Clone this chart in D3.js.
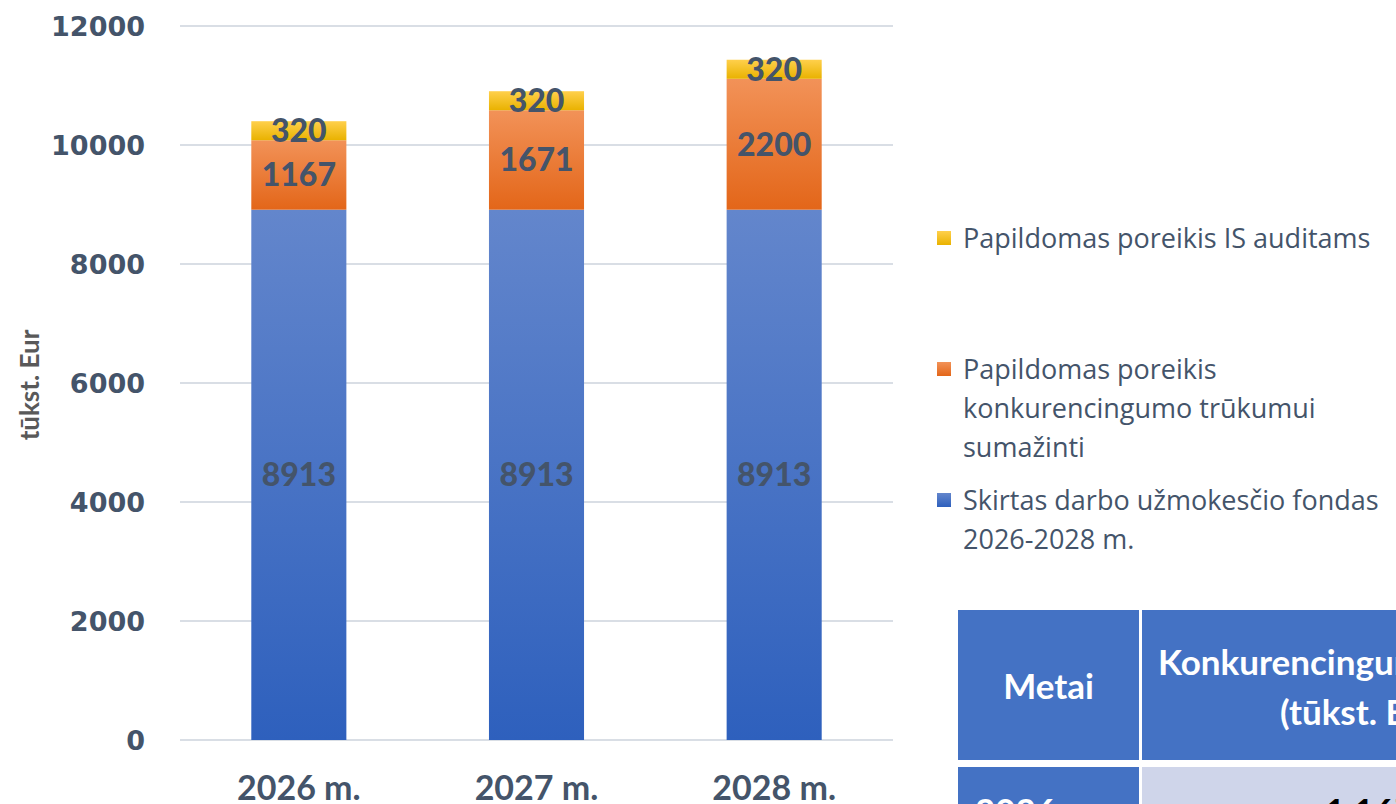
<!DOCTYPE html>
<html>
<head>
<meta charset="utf-8">
<script src="https://cdn.jsdelivr.net/npm/d3@7"></script>
<style>
  body { margin: 0; background: #fff; }
  svg { display: block; }
  .grid line { stroke: #d9dee5; stroke-width: 2; }
  .tick-label { font-family: "DejaVu Sans", sans-serif; font-weight: bold; font-size: 27px; fill: #44546a; }
  .cat-label { font-family: Lato, sans-serif; font-weight: bold; font-size: 34px; fill: #44546a; }
  .seg-label { font-family: Lato, sans-serif; font-weight: 900; font-size: 32px; fill: #44546a; }
  .legend text { font-family: "Open Sans", sans-serif; font-size: 27px; fill: #44546a; }
  .tbl text { font-family: Lato, sans-serif; font-weight: bold; font-size: 35px; }
</style>
</head>
<body>
<svg id="chart" width="1396" height="804"></svg>
<script>
// chart data
const years = ['2026 m.', '2027 m.', '2028 m.'];
const fund = [8913, 8913, 8913];
const gap = [1167, 1671, 2200];
const audit = [320, 320, 320];
const yTicks = [0, 2000, 4000, 6000, 8000, 10000, 12000];

const seriesKeys = ['fund', 'gap', 'audit'];
const seriesNames = [
  ['Skirtas darbo užmokesčio fondas', '2026-2028 m.'],
  ['Papildomas poreikis', 'konkurencingumo trūkumui', 'sumažinti'],
  ['Papildomas poreikis IS auditams']
];
const seriesColors = [
  ['#6386cc', '#2e60bd'],
  ['#f29258', '#e36619'],
  ['#ffd04c', '#e9b200']
];

// table data
const tableHeader = [['Metai'], ['Konkurencingumo trūkumas', '(tūkst. Eur)']];
const tableRows = [['2026', '1 167']];

const svg = d3.select('#chart');
const defs = svg.append('defs');

seriesColors.forEach((c, i) => {
  const g = defs.append('linearGradient')
      .attr('id', `grad${ i }`)
      .attr('x1', 0).attr('y1', 0).attr('x2', 0).attr('y2', 1);
  g.append('stop').attr('offset', '0%').attr('stop-color', c[0]);
  g.append('stop').attr('offset', '100%').attr('stop-color', c[1]);
});

const rows = years.map((d, i) => ({ year: d, fund: fund[i], gap: gap[i], audit: audit[i] }));

const x = d3.scaleBand()
    .domain(years)
    .range([180, 893])
    .paddingInner(0.6)
    .paddingOuter(0.3);

const y = d3.scaleLinear()
    .domain([0, 12000])
    .range([740, 26]);

// gridlines
svg.append('g')
    .attr('class', 'grid')
  .selectAll('line')
    .data(yTicks)
  .enter().append('line')
    .attr('x1', 180)
    .attr('x2', 893)
    .attr('y1', (d) => y(d))
    .attr('y2', (d) => y(d));

// y tick labels
svg.append('g')
  .selectAll('text')
    .data(yTicks)
  .enter().append('text')
    .attr('class', 'tick-label')
    .attr('x', 145)
    .attr('y', (d) => y(d))
    .attr('dy', '0.36em')
    .attr('text-anchor', 'end')
    .text((d) => d);

// y axis title
svg.append('text')
    .attr('transform', 'translate(39,385) rotate(-90)')
    .attr('text-anchor', 'middle')
    .style('font-family', 'Lato, sans-serif')
    .style('font-weight', 'bold')
    .style('font-size', '26px')
    .style('fill', '#595959')
    .text('tūkst. Eur');

const stacked = d3.stack().keys(seriesKeys)(rows);

const layer = svg.selectAll('.layer')
    .data(stacked)
  .enter().append('g')
    .attr('class', 'layer');

layer.selectAll('rect')
    .data((d) => d.map((v) => ({ v, i: d.index })))
  .enter().append('rect')
    .attr('x', (d) => x(d.v.data.year))
    .attr('y', (d) => y(d.v[1]))
    .attr('width', x.bandwidth())
    .attr('height', (d) => y(d.v[0]) - y(d.v[1]))
    .style('fill', (d) => `url(#grad${ d.i })`);

layer.selectAll('text')
    .data((d) => d.map((v) => ({ v, i: d.index })))
  .enter().append('text')
    .attr('class', 'seg-label')
    .attr('x', (d) => x(d.v.data.year) + x.bandwidth() / 2)
    .attr('y', (d) => y((d.v[0] + d.v[1]) / 2))
    .attr('dy', '0.36em')
    .attr('text-anchor', 'middle')
    .text((d) => d.v[1] - d.v[0]);

// category labels
svg.append('g')
  .selectAll('text')
    .data(years)
  .enter().append('text')
    .attr('class', 'cat-label')
    .attr('x', (d) => x(d) + x.bandwidth() / 2)
    .attr('y', 800)
    .attr('text-anchor', 'middle')
    .text((d) => d);

// legend (top item is the top series)
const legendY = [238, 369, 500];
const legend = svg.append('g').attr('class', 'legend');
[2, 1, 0].forEach((s, k) => {
  const g = legend.append('g').attr('transform', `translate(937,${ legendY[k] })`);
  g.append('rect')
      .attr('x', 0).attr('y', -7)
      .attr('width', 14).attr('height', 14)
      .style('fill', `url(#grad${ s })`);
  seriesNames[s].forEach((line, j) => {
    g.append('text')
        .attr('x', 26)
        .attr('y', j * 39)
        .attr('dy', '0.36em')
        .text(line);
  });
});

// table at bottom right
const tbl = svg.append('g').attr('class', 'tbl');
const colX = [958, 1142];
const colW = [181, 420];
tbl.append('rect').attr('x', colX[0]).attr('y', 610).attr('width', colW[0]).attr('height', 150).style('fill', '#4472c4');
tbl.append('rect').attr('x', colX[1]).attr('y', 610).attr('width', colW[1]).attr('height', 150).style('fill', '#4472c4');
tbl.append('rect').attr('x', colX[0]).attr('y', 767).attr('width', colW[0]).attr('height', 60).style('fill', '#4472c4');
tbl.append('rect').attr('x', colX[1]).attr('y', 767).attr('width', colW[1]).attr('height', 60).style('fill', '#cfd5ea');

tbl.append('text')
    .attr('x', colX[0] + colW[0] / 2)
    .attr('y', 699)
    .attr('text-anchor', 'middle')
    .style('fill', '#fff')
    .text(tableHeader[0][0]);

const headX = [1158, 1280];
tableHeader[1].forEach((line, j) => {
  tbl.append('text')
      .attr('x', headX[j])
      .attr('y', 675 + j * 50)
      .style('fill', '#fff')
      .text(line);
});

tbl.append('text')
    .attr('x', 975)
    .attr('y', 824)
    .style('fill', '#fff')
    .text(tableRows[0][0]);

tbl.append('text')
    .attr('x', 1325)
    .attr('y', 824)
    .style('fill', '#000')
    .text(tableRows[0][1]);
</script>
</body>
</html>
